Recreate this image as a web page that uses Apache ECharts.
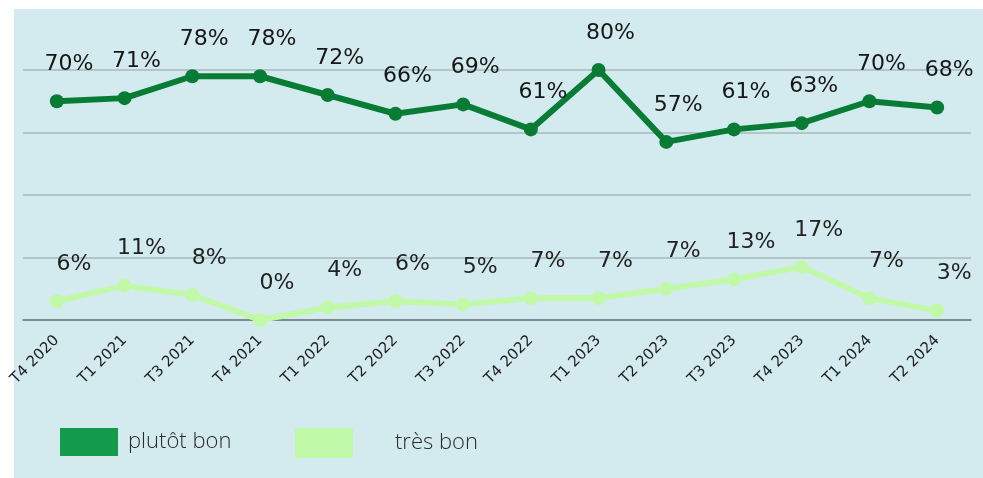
<!DOCTYPE html>
<html>
<head>
<meta charset="utf-8">
<script src="https://cdn.jsdelivr.net/npm/echarts@6/dist/echarts.min.js"></script>
<style>
	html, body { margin: 0; padding: 0; background: #ffffff; }
	#chart { width: 983px; height: 478px; }
</style>
</head>
<body>
<div id="chart"></div>
<script>
// trimestres
const categories = [
	"T4 2020", "T1 2021", "T3 2021", "T4 2021", "T1 2022", "T2 2022", "T3 2022",
	"T4 2022", "T1 2023", "T2 2023", "T3 2023", "T4 2023", "T1 2024", "T2 2024",
];
const plutotBon = [70, 71, 78, 78, 72, 66, 69, 61, 80, 57, 61, 63, 70, 68];
// positions (T2 2023 est placé plus haut que son étiquette)
const tresBon = [6, 11, 8, 0, 4, 6, 5, 7, 7, 10, 13, 17, 7, 3];
const tresBonLabels = ["6%", "11%", "8%", "0%", "4%", "6%", "5%", "7%", "7%", "7%", "13%", "17%", "7%", "3%"];
const yTicks = [0, 20, 40, 60, 80];

const chart = echarts.init(document.getElementById("chart"));

const labelFont = {
	show: true,
	position: "top",
	distance: 19,
	fontFamily: "DejaVu Sans",
	fontSize: 22,
	color: "#161616",
};

const legendText = { fontFamily: "Open Sans", fontSize: 22, color: "#2b2b2b", fontWeight: 300 };

const option = {
	animation: false,
	// fond bleu clair du cadre
	graphic: [
		{
			type: "rect",
			z: -10,
			silent: true,
			shape: { x: 14, y: 9, width: 969, height: 469 },
			style: { fill: "#d3ebef" },
		},
	],
	grid: {
		left: 23,
		right: 12,
		top: 70,
		bottom: 158,
		containLabel: false,
		outerBoundsMode: "none",
	},
	legend: [
		{
			left: 55,
			top: 423,
			itemWidth: 58,
			itemHeight: 28,
			icon: "rect",
			textStyle: Object.assign({}, legendText, { padding: [0, 0, 0, 5] }),
			data: [{ name: "plutôt bon", itemStyle: { color: "#139a4a" } }],
		},
		{
			left: 290,
			top: 423,
			itemWidth: 58,
			itemHeight: 30,
			icon: "rect",
			textStyle: Object.assign({}, legendText, { padding: [0, 0, 0, 37] }),
			data: [{ name: "très bon", itemStyle: { color: "#c0f9a8" } }],
		},
	],
	xAxis: {
		type: "category",
		data: categories,
		boundaryGap: true,
		axisLine: { lineStyle: { color: "#6b7679", width: 1.5 } },
		axisTick: { show: false },
		axisLabel: {
			rotate: 45,
			interval: 0,
			margin: 18,
			fontFamily: "DejaVu Sans",
			fontSize: 15,
			color: "#1e1e1e",
		},
	},
	yAxis: {
		type: "value",
		min: yTicks[0],
		max: yTicks[yTicks.length - 1],
		interval: yTicks[1] - yTicks[0],
		axisLabel: { show: false },
		axisLine: { show: false },
		axisTick: { show: false },
		splitLine: { lineStyle: { color: "#a7b8bc", width: 1.5 } },
	},
	series: [
		{
			name: "plutôt bon",
			type: "line",
			data: plutotBon,
			symbol: "circle",
			symbolSize: 14,
			lineStyle: { color: "#087c35", width: 6 },
			itemStyle: { color: "#087c35" },
			label: Object.assign({}, labelFont, { formatter: "{c}%", offset: [12, 0] }),
		},
		{
			name: "très bon",
			type: "line",
			data: tresBon,
			symbol: "circle",
			symbolSize: 14,
			lineStyle: { color: "#c2f9a8", width: 6 },
			itemStyle: { color: "#c2f9a8" },
			label: Object.assign({}, labelFont, {
				formatter: (p) => tresBonLabels[p.dataIndex],
				offset: [17, 0],
				color: "#222",
			}),
		},
	],
};

chart.setOption(option);
</script>
</body>
</html>
